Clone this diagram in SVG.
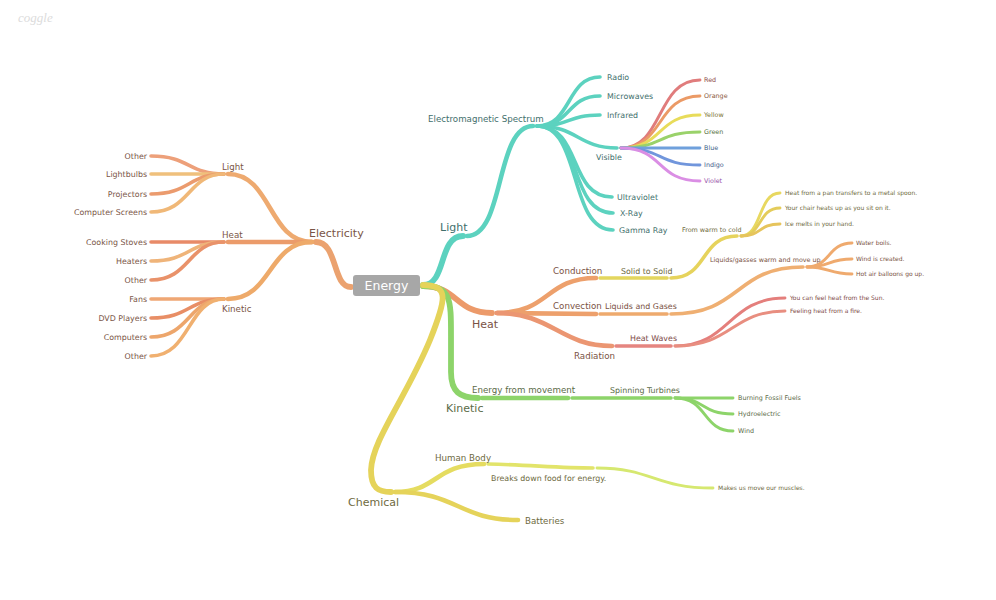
<svg xmlns="http://www.w3.org/2000/svg" width="996" height="600" viewBox="0 0 996 600">
<style>
text{font-family:"DejaVu Sans","Liberation Sans",sans-serif}
.c path{fill:none;stroke-linecap:round}
.w1{stroke-width:5.8}
.w2{stroke-width:4.6}
.w3{stroke-width:3.6}
.w4{stroke-width:2.9}
.l1{font-size:11px}
.l2{font-size:8.7px}
.l3{font-size:7.9px}
.l4{font-size:6.4px}
.l5{font-size:6px}
.tE{fill:#7a5546}
.tT{fill:#3f6f6c}
.tH{fill:#7a5244}
.tK{fill:#5b6b47}
.tC{fill:#6e6a3e}
</style>
<rect width="996" height="600" fill="#ffffff"/>
<text x="18" y="22" font-style="italic" font-size="13" fill="#dcdcdc" style="font-family:'Liberation Serif',serif">coggle</text>

<g class="c" id="connectors">
<!-- Electricity -->
<path class="w1" stroke="#eba26f" d="M351,287 C332,287 338,242 316,242"/>
<path class="w2" stroke="#eeaa70" d="M312,242 C268,242 272,174 228,174"/>
<path class="w2" stroke="#eb9b6a" d="M312,242 L228,242"/>
<path class="w2" stroke="#eeaa6a" d="M312,242 C268,242 272,299 228,299"/>
<path class="w3" stroke="#eda07a" d="M224,174 C188,174 190,156 151,156"/>
<path class="w3" stroke="#efc07c" d="M224,174 L151,174"/>
<path class="w3" stroke="#eb9b6e" d="M224,174 C188,174 190,194 151,194"/>
<path class="w3" stroke="#f0b878" d="M224,174 C188,174 190,212 151,212"/>
<path class="w3" stroke="#e88a68" d="M224,242 L151,242"/>
<path class="w3" stroke="#efb47a" d="M224,242 C188,242 190,261 151,261"/>
<path class="w3" stroke="#e9926a" d="M224,242 C188,242 190,280 151,280"/>
<path class="w3" stroke="#efa774" d="M224,299 L151,299"/>
<path class="w3" stroke="#e88e66" d="M224,299 C188,299 190,318 151,318"/>
<path class="w3" stroke="#eda66c" d="M224,299 C188,299 190,337 151,337"/>
<path class="w3" stroke="#f0b070" d="M224,299 C188,299 190,356 151,356"/>
<!-- Light -->
<path class="w1" stroke="#5cd2bf" d="M423,285 C447,285 438,236 463,236"/>
<path class="w2" stroke="#5cd2bf" d="M467,236 C505,236 495,126 533,126"/>
<path class="w3" stroke="#5cd2bf" d="M537,126 C572,126 566,77 600,77"/>
<path class="w3" stroke="#5cd2bf" d="M537,126 C572,126 566,96 600,96"/>
<path class="w3" stroke="#5cd2bf" d="M537,126 C572,126 566,115 600,115"/>
<path class="w3" stroke="#5cd2bf" d="M537,126 C578,126 578,148 617,148"/>
<path class="w3" stroke="#5cd2bf" d="M537,126 C582,126 568,197 612,197"/>
<path class="w3" stroke="#5cd2bf" d="M537,126 C582,126 568,213 613,213"/>
<path class="w3" stroke="#5cd2bf" d="M537,126 C582,126 568,230 613,230"/>
<path class="w4" stroke="#e07c7c" d="M621,148 C664,148 656,80 700,80"/>
<path class="w4" stroke="#eb9a66" d="M621,148 C664,148 656,96 700,96"/>
<path class="w4" stroke="#e8dc5a" d="M621,148 C664,148 656,115 700,115"/>
<path class="w4" stroke="#9ad26a" d="M621,148 C664,148 656,132 700,132"/>
<path class="w4" stroke="#6fa0dc" d="M621,148 L700,148"/>
<path class="w4" stroke="#7196dc" d="M621,148 C664,148 656,165 700,165"/>
<path class="w4" stroke="#da8ee4" d="M621,148 C664,148 656,181 700,181"/>
<!-- Heat -->
<path class="w1" stroke="#ec9a6a" d="M423,286 C458,286 455,313 492,313"/>
<path class="w2" stroke="#eda06c" d="M497,313 C550,313 545,278 596,278"/>
<path class="w3" stroke="#e3d65e" d="M600,278 L667,278"/>
<path class="w3" stroke="#e6d35c" d="M671,278 C708,278 700,236 737,236"/>
<path class="w4" stroke="#e8d860" d="M741,236 C762,236 758,193 780,193"/>
<path class="w4" stroke="#e4cc5a" d="M741,236 C762,236 758,208 780,208"/>
<path class="w4" stroke="#e6c45c" d="M741,236 C762,236 758,224 780,224"/>
<path class="w2" stroke="#eda06c" d="M497,313 L596,314"/>
<path class="w3" stroke="#eeaa6e" d="M600,314 L667,314"/>
<path class="w3" stroke="#efaf72" d="M671,314 C742,314 734,267 803,267"/>
<path class="w4" stroke="#efaa6e" d="M807,267 C830,267 828,243 852,243"/>
<path class="w4" stroke="#efaa6e" d="M807,267 C830,267 828,259 852,259"/>
<path class="w4" stroke="#efaa6e" d="M807,267 C830,267 828,274 852,274"/>
<path class="w2" stroke="#eb9672" d="M497,313 C552,313 560,346 612,346"/>
<path class="w3" stroke="#e58580" d="M616,346 L671,346"/>
<path class="w4" stroke="#e47f7c" d="M675,346 C730,346 728,298 785,298"/>
<path class="w4" stroke="#e88e80" d="M675,346 C733,346 731,311 785,311"/>
<!-- Kinetic -->
<path class="w1" stroke="#8dd46a" d="M423,286 C452,286 451,300 451,340 L451,372 C451,392 460,398 478,398"/>
<path class="w2" stroke="#8dd46a" d="M482,398 L568,398"/>
<path class="w3" stroke="#8dd46a" d="M572,398 L671,398"/>
<path class="w4" stroke="#8dd46a" d="M675,398 L733,398"/>
<path class="w4" stroke="#8dd46a" d="M675,398 C706,398 700,414 733,414"/>
<path class="w4" stroke="#8dd46a" d="M675,398 C708,398 702,431 733,431"/>
<!-- Chemical -->
<path class="w1" stroke="#e5d35a" d="M423,285 C450,285 446,300 430,340 C406,398 372,440 371,470 C371,488 378,492 391,492"/>
<path class="w2" stroke="#e5dc60" d="M395,492 C438,492 434,464 484,464"/>
<path class="w3" stroke="#e2e46a" d="M488,464 C530,465 560,468 593,468"/>
<path class="w4" stroke="#d6e870" d="M597,468 C652,468 655,488 713,488"/>
<path class="w2" stroke="#e5d35a" d="M395,492 C458,492 458,520 518,520"/>
</g>

<g id="energy"><rect x="353" y="275" width="67" height="21" rx="3" fill="#a7a7a7"/><text x="386.5" y="290" text-anchor="middle" font-size="12.5" fill="#ffffff">Energy</text></g>

<g id="electricity"><text class="l1 tE" x="309" y="237">Electricity</text></g>
<g id="e-light"><text class="l2 tE" x="222" y="170">Light</text></g>
<g id="e-heat"><text class="l2 tE" x="222" y="238">Heat</text></g>
<g id="e-kinetic"><text class="l2 tE" x="222" y="312">Kinetic</text></g>
<g id="e-light-other"><text class="l3 tE" x="147" y="158.8" text-anchor="end">Other</text></g>
<g id="e-lightbulbs"><text class="l3 tE" x="147" y="177.3" text-anchor="end">Lightbulbs</text></g>
<g id="e-projectors"><text class="l3 tE" x="147" y="196.8" text-anchor="end">Projectors</text></g>
<g id="e-screens"><text class="l3 tE" x="147" y="214.8" text-anchor="end">Computer Screens</text></g>
<g id="e-stoves"><text class="l3 tE" x="147" y="244.8" text-anchor="end">Cooking Stoves</text></g>
<g id="e-heaters"><text class="l3 tE" x="147" y="263.8" text-anchor="end">Heaters</text></g>
<g id="e-heat-other"><text class="l3 tE" x="147" y="282.8" text-anchor="end">Other</text></g>
<g id="e-fans"><text class="l3 tE" x="147" y="301.8" text-anchor="end">Fans</text></g>
<g id="e-dvd"><text class="l3 tE" x="147" y="320.8" text-anchor="end">DVD Players</text></g>
<g id="e-computers"><text class="l3 tE" x="147" y="339.8" text-anchor="end">Computers</text></g>
<g id="e-kin-other"><text class="l3 tE" x="147" y="358.8" text-anchor="end">Other</text></g>

<g id="light"><text class="l1 tT" x="440" y="231">Light</text></g>
<g id="em"><text class="l2 tT" x="428" y="122">Electromagnetic Spectrum</text></g>
<g id="radio"><text class="l3 tT" x="607" y="79.8">Radio</text></g>
<g id="microwaves"><text class="l3 tT" x="607" y="98.8">Microwaves</text></g>
<g id="infrared"><text class="l3 tT" x="607" y="117.8">Infrared</text></g>
<g id="visible"><text class="l3 tT" x="596" y="160">Visible</text></g>
<g id="ultraviolet"><text class="l3 tT" x="617" y="199.8">Ultraviolet</text></g>
<g id="xray"><text class="l3 tT" x="620" y="215.8">X-Ray</text></g>
<g id="gamma"><text class="l3 tT" x="619" y="232.8">Gamma Ray</text></g>
<g id="red"><text class="l4" x="704" y="82.3" fill="#8c4a48">Red</text></g>
<g id="orange"><text class="l4" x="704" y="98.3" fill="#8c5a3e">Orange</text></g>
<g id="yellow"><text class="l4" x="704" y="117.3" fill="#7a7434">Yellow</text></g>
<g id="green"><text class="l4" x="704" y="134.3" fill="#557040">Green</text></g>
<g id="blue"><text class="l4" x="704" y="150.3" fill="#3e5f88">Blue</text></g>
<g id="indigo"><text class="l4" x="704" y="167.3" fill="#3e5a8a">Indigo</text></g>
<g id="violet"><text class="l4" x="704" y="183.3" fill="#9450a8">Violet</text></g>

<g id="heat"><text class="l1 tH" x="472" y="328">Heat</text></g>
<g id="conduction"><text class="l2 tH" x="553" y="274">Conduction</text></g>
<g id="solid"><text class="l3 tC" x="621" y="274">Solid to Solid</text></g>
<g id="warmcold"><text class="l4 tC" x="682" y="232">From warm to cold</text></g>
<g id="pan"><text class="l5 tC" x="785" y="195">Heat from a pan transfers to a metal spoon.</text></g>
<g id="chair"><text class="l5 tC" x="785" y="210">Your chair heats up as you sit on it.</text></g>
<g id="ice"><text class="l5 tC" x="785" y="226">Ice melts in your hand.</text></g>
<g id="convection"><text class="l2 tH" x="553" y="309">Convection</text></g>
<g id="liquids"><text class="l3 tH" x="605" y="309">Liquids and Gases</text></g>
<g id="warmup"><text class="l4 tH" x="710" y="262">Liquids/gasses warm and move up</text></g>
<g id="water"><text class="l5 tH" x="856" y="245">Water boils.</text></g>
<g id="wind-created"><text class="l5 tH" x="856" y="261">Wind is created.</text></g>
<g id="balloons"><text class="l5 tH" x="856" y="276">Hot air balloons go up.</text></g>
<g id="radiation"><text class="l2 tH" x="574" y="359">Radiation</text></g>
<g id="heatwaves"><text class="l3" x="630" y="341" fill="#7e4a48">Heat Waves</text></g>
<g id="sun"><text class="l5" x="790" y="300" fill="#7e4a48">You can feel heat from the Sun.</text></g>
<g id="fire"><text class="l5" x="790" y="313" fill="#7e4a48">Feeling heat from a fire.</text></g>

<g id="kinetic"><text class="l1 tK" x="446" y="412">Kinetic</text></g>
<g id="movement"><text class="l2 tK" x="472" y="393">Energy from movement</text></g>
<g id="turbines"><text class="l3 tK" x="610" y="393">Spinning Turbines</text></g>
<g id="fossil"><text class="l4 tK" x="738" y="400.3">Burning Fossil Fuels</text></g>
<g id="hydro"><text class="l4 tK" x="738" y="416.3">Hydroelectric</text></g>
<g id="wind"><text class="l4 tK" x="738" y="433.3">Wind</text></g>

<g id="chemical"><text class="l1 tC" x="348" y="506">Chemical</text></g>
<g id="human"><text class="l2 tC" x="435" y="461">Human Body</text></g>
<g id="food"><text class="l3 tC" x="491" y="481">Breaks down food for energy.</text></g>
<g id="muscles"><text class="l5 tC" x="718" y="490">Makes us move our muscles.</text></g>
<g id="batteries"><text class="l2 tC" x="525" y="524">Batteries</text></g>
</svg>
